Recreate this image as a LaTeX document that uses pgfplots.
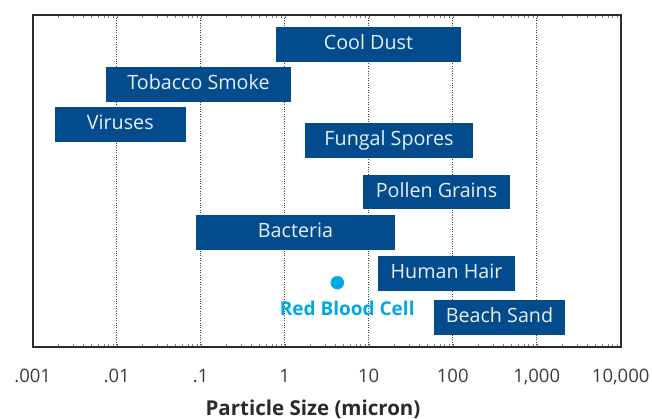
\documentclass[border=0pt]{standalone}
\usepackage{fontspec}
\setmainfont{Open Sans}
\usepackage{pgfplots}
\pgfplotsset{compat=1.18}
\definecolor{barblue}{RGB}{2,75,141}
\definecolor{cellblue}{RGB}{0,168,225}
\definecolor{framec}{RGB}{43,43,43}
\definecolor{ticktext}{RGB}{60,60,60}
\definecolor{bartextc}{RGB}{232,239,247}
\tikzset{bartext/.style={anchor=base, yshift=-5.2pt, font=\fontsize{19.7}{21}\selectfont, text=bartextc}}
\begin{document}
\begin{tikzpicture}
\useasboundingbox (-32.7pt,-72pt) rectangle (619.3pt,347pt);
\begin{axis}[
  at={(0pt,0pt)}, anchor=south west,
  scale only axis, width=588pt, height=332pt,
  xmode=log, xmin=0.001, xmax=10000, ymin=0, ymax=332,
  ytick=\empty,
  xtick={0.001,0.01,0.1,1,10,100,1000,10000},
  xticklabels={.001,.01,.1,1,10,100,{1,000},{10,000}},
  major tick length=0pt,
  xmajorgrids, grid style={dotted, line width=0.9pt, black!75},
  axis line style={framec, line width=2.3pt},
  /pgf/number format/assume math mode=true,
  xticklabel style={anchor=base, yshift=-35.3pt, font=\fontsize{18.5}{20}\selectfont, text=ticktext},
  xlabel={Particle Size (micron)},
  xlabel style={at={(axis description cs:0.4767,0)}, anchor=base, yshift=-68.5pt, font=\bfseries\fontsize{20.5}{22}\selectfont, text=framec},
  clip=false,
]
% Cool Dust
\addplot[fill=barblue, draw=none] coordinates {(0.79,285.3) (125.6,285.3) (125.6,320) (0.79,320)} -- cycle;
% Tobacco Smoke
\addplot[fill=barblue, draw=none] coordinates {(0.00746,245.3) (1.19,245.3) (1.19,280) (0.00746,280)} -- cycle;
% Viruses
\addplot[fill=barblue, draw=none] coordinates {(0.00184,205.3) (0.0662,205.3) (0.0662,240) (0.00184,240)} -- cycle;
% Fungal Spores
\addplot[fill=barblue, draw=none] coordinates {(1.745,189.3) (174.6,189.3) (174.6,224) (1.745,224)} -- cycle;
% Pollen Grains
\addplot[fill=barblue, draw=none] coordinates {(8.55,137.7) (481,137.7) (481,172) (8.55,172)} -- cycle;
% Bacteria
\addplot[fill=barblue, draw=none] coordinates {(0.088,97.3) (20.6,97.3) (20.6,132) (0.088,132)} -- cycle;
% Human Hair
\addplot[fill=barblue, draw=none] coordinates {(12.9,56.3) (552,56.3) (552,91) (12.9,91)} -- cycle;
% Beach Sand
\addplot[fill=barblue, draw=none] coordinates {(59.9,12.3) (2172,12.3) (2172,47) (59.9,47)} -- cycle;
% Red Blood Cell
\addplot[only marks, mark=*, mark size=6.5pt, color=cellblue] coordinates {(4.23,64.3)};

\node[bartext] at (axis cs:9.94,302.65) {Cool Dust};
\node[bartext] at (axis cs:0.0942,262.65) {Tobacco Smoke};
\node[bartext] at (axis cs:0.01104,222.65) {Viruses};
\node[bartext] at (axis cs:17.46,206.65) {Fungal Spores};
\node[bartext] at (axis cs:64.1,154.85) {Pollen Grains};
\node[bartext] at (axis cs:1.345,114.65) {Bacteria};
\node[bartext] at (axis cs:84.4,73.65) {Human Hair};
\node[bartext] at (axis cs:360.6,29.65) {Beach Sand};
\node[anchor=base, font=\bfseries\fontsize{19}{21}\selectfont, text=cellblue] at (axis cs:5.55,31) {Red Blood Cell};
\end{axis}
\end{tikzpicture}
\end{document}
